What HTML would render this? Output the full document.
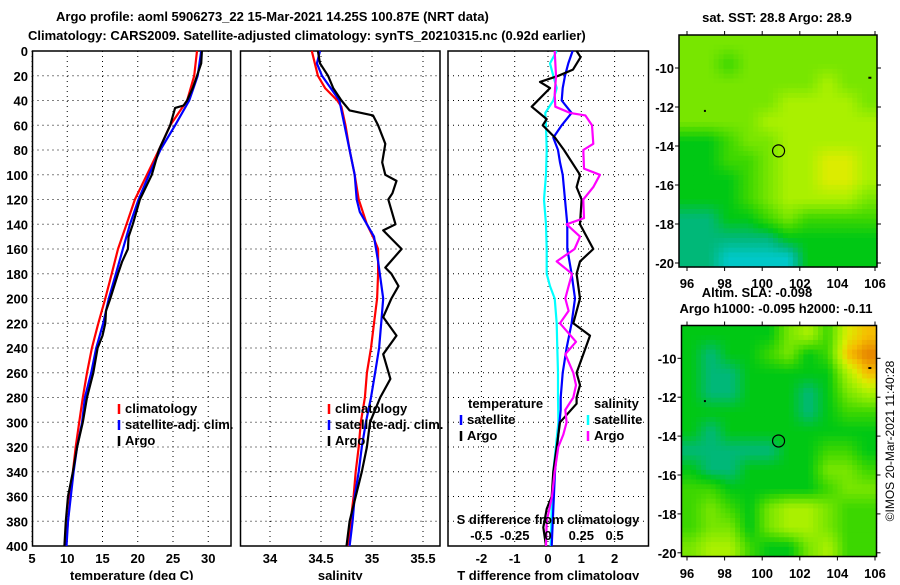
<!DOCTYPE html>
<html><head><meta charset="utf-8"><style>
body{margin:0;background:#fff;}
svg text{font-family:"Liberation Sans",sans-serif;font-weight:bold;font-size:13px;fill:#000;}
</style></head><body>
<svg id="chart" width="900" height="580" viewBox="0 0 900 580" xmlns="http://www.w3.org/2000/svg">
<text x="56" y="21">Argo profile: aoml 5906273_22 15-Mar-2021 14.25S 100.87E (NRT data)</text>
<text x="28" y="40">Climatology: CARS2009. Satellite-adjusted climatology: synTS_20210315.nc (0.92d earlier)</text>
<text x="777" y="22" text-anchor="middle">sat. SST: 28.8 Argo: 28.9</text>
<text x="757" y="297" text-anchor="middle">Altim. SLA: -0.098</text>
<text x="776" y="313" text-anchor="middle">Argo h1000: -0.095 h2000: -0.11</text>
<text transform="translate(894,441) rotate(-90)" text-anchor="middle" style="font-weight:normal;font-size:12px">©IMOS 20-Mar-2021 11:40:28</text>
<g id="plots"></g>
</svg>
<script>
// ---- temperature panel data ----
const tDepthClim = [0,20,40,60,80,100,120,140,160,180,200,220,240,260,280,300,320,340,360,380,400];
const tClim = [28.4,28.0,27.0,24.6,23.0,21.3,19.6,18.4,17.2,16.3,15.4,14.4,13.5,12.8,12.2,11.7,11.2,10.8,10.4,10.1,9.8];
const tSat = [29.0,28.5,27.3,25.3,23.2,21.6,20.1,18.9,17.9,16.9,15.9,15.1,14.1,13.4,12.5,12.1,11.4,10.9,10.5,10.1,9.9];
const tDepthArgo = [0,10,20,30,40,44,46,60,80,100,120,140,150,160,170,180,200,210,220,230,240,260,280,300,320,340,360,380,400];
const tArgo = [29.1,29.0,28.4,27.8,27.0,26.5,25.3,24.6,23.0,22.0,20.3,19.3,18.7,18.6,17.8,17.2,16.1,15.5,15.4,15.0,14.3,13.7,12.8,12.2,11.4,10.8,10.1,9.8,9.6];
const tTicks = [5,10,15,20,25,30];
// ---- salinity panel data ----
const sDepthClim = [0,20,30,40,45,60,80,100,120,140,150,160,180,200,220,240,260,280,300,320,340,360,380,400];
const sClim = [34.41,34.47,34.54,34.66,34.70,34.74,34.78,34.83,34.87,34.95,35.01,35.06,35.06,35.05,35.02,34.99,34.95,34.93,34.89,34.87,34.84,34.82,34.79,34.77];
const sDepthSat = [0,10,20,40,60,80,100,120,130,150,170,200,220,240,260,280,300,320,340,360,380,400];
const sSat = [34.49,34.46,34.51,34.68,34.73,34.78,34.83,34.85,34.88,35.02,35.06,35.11,35.09,35.07,35.03,34.99,34.94,34.90,34.87,34.83,34.81,34.78];
const sDepthArgo = [0,10,20,30,40,48,52,60,75,90,100,105,115,120,140,145,160,175,180,190,200,215,230,245,265,280,300,320,340,360,380,400];
const sArgo = [34.47,34.49,34.57,34.62,34.70,34.78,35.01,35.06,35.13,35.10,35.13,35.24,35.20,35.16,35.23,35.11,35.29,35.13,35.19,35.26,35.19,35.11,35.24,35.11,35.18,35.08,34.98,34.95,34.90,34.84,34.78,34.75];
const sTicks = [34,34.5,35,35.5];
// ---- difference panel data ----
const dDepthSSat = [0,10,20,30,40,50,60,80,100,120,140,160,180,190,200,220,240,260,280,300,340,370,400];
const dSSat = [0.065,0.015,0.04,0.065,0.04,-0.02,-0.015,-0.01,-0.015,-0.03,-0.015,-0.01,-0.01,0.015,0.05,0.065,0.07,0.075,0.075,0.078,0.04,0.028,0.02];
const dDepthTSat = [0,10,20,30,40,50,60,70,80,90,100,120,140,160,180,200,220,240,260,280,290,310,340,370,400];
const dTSat = [0.74,0.61,0.51,0.44,0.41,0.71,0.41,0.16,0.30,0.36,0.44,0.51,0.58,0.58,0.71,0.81,0.71,0.56,0.44,0.38,0.38,0.31,0.21,0.16,0.11];
const dDepthTArgo = [0,5,15,20,25,30,45,55,60,70,80,100,110,120,140,160,170,180,200,220,230,245,260,270,280,285,300,320,340,360,370,385,400];
const dTArgo = [0.86,0.98,0.75,0.31,-0.24,0.06,-0.49,-0.04,-0.16,0.21,0.48,0.96,0.86,1.01,0.96,1.36,0.96,0.86,0.96,0.76,1.26,1.06,0.86,0.96,0.86,0.86,0.36,0.26,0.16,0.11,-0.04,-0.14,-0.06];
const dDepthSArgo = [0,20,35,45,50,52,60,75,80,95,100,110,120,135,140,150,160,170,180,190,200,210,220,235,245,260,270,280,290,300,310,320,340,360,380,400];
const dSArgo = [0.05,0.06,0.05,0.055,0.165,0.28,0.33,0.34,0.265,0.27,0.39,0.34,0.265,0.27,0.14,0.24,0.20,0.065,0.18,0.155,0.13,0.155,0.09,0.21,0.13,0.19,0.21,0.19,0.13,0.14,0.115,0.077,0.05,0.03,-0.01,-0.015];
const dTTicks = [-2,-1,0,1,2];
const dSTicks = [-0.5,-0.25,0,0.25,0.5];
const dSTickLabels = ['-0.5','-0.25','0','0.25','0.5'];
const depthTicks = [0,20,40,60,80,100,120,140,160,180,200,220,240,260,280,300,320,340,360,380,400];
// ---- map data (colour class per ~1deg cell, rows north->south) ----
const sstGrid = [
[5,5,5,5,5,5,5,5,5,5],[5,5,4,5,5,5,5,5,5,5],[5,5,5,5,5,5,5,6,5,5],[5,5,5,5,5,6,6,6,6,5],
[5,5,5,5,6,6,6,6,6,6],[3,3,4,5,5,6,6,6,6,6],[3,3,4,4,5,6,6,7,7,6],[3,3,3,4,5,6,6,7,7,6],
[3,3,3,4,5,6,6,6,6,5],[2,2,3,3,4,5,4,4,4,4],[2,2,2,2,2,3,3,3,3,3],[2,2,1,1,1,1,3,3,3,3]];
const slaGrid = [
[3,3,3,3,3,5,6,4,7,8],[3,2,3,3,4,5,3,4,8,9],[3,2,2,3,3,3,3,3,6,8],[3,2,2,3,3,3,2,3,5,6],
[3,3,3,3,3,3,2,3,4,4],[3,2,3,3,3,3,3,3,3,3],[2,2,2,2,2,3,3,4,4,3],[3,2,2,3,3,3,3,5,5,4],
[4,4,3,3,3,3,3,4,5,5],[4,5,4,3,5,6,6,5,4,4],[4,5,5,3,5,6,6,5,4,4],[5,6,6,4,3,3,5,6,4,4]];
const lonTicks = [96,98,100,102,104,106];
const latTicks = [-10,-12,-14,-16,-18,-20];
const argoLon = 100.87, argoLat = -14.25;

const NS='http://www.w3.org/2000/svg';
const root=document.getElementById('plots');
function mk(tag,attrs,parent){const e=document.createElementNS(NS,tag);for(const k in attrs)e.setAttribute(k,attrs[k]);(parent||root).appendChild(e);return e;}
function txt(x,y,s,anchor,parent){const t=mk('text',{x:x,y:y,'text-anchor':anchor||'start'},parent);t.textContent=s;return t;}
const Y0=51, Y1=546;
const yD=d=>Y0+(d/400)*(Y1-Y0);

function panel(name,x0,x1,xf,ticks,labels,xlabel){
  const g=mk('g',{});
  
  
  depthTicks.forEach(d=>{if(d>0&&d<400){const l=mk('line',{x1:x0,x2:x1,y1:yD(d),y2:yD(d),stroke:'#000','stroke-dasharray':'1,4'},g);}});
  ticks.forEach((v,i)=>{const x=xf(v);const l=mk('line',{x1:x,x2:x,y1:Y0,y2:Y1,stroke:'#000','stroke-dasharray':'1,4'},g);
    if(labels){const t=txt(x,563,labels[i],'middle',g);}});
  const r=mk('rect',{x:x0,y:Y0,width:x1-x0,height:Y1-Y0,fill:'none',stroke:'#000','stroke-width':1.5},g);
  
  if(xlabel){const t=txt((x0+x1)/2,580,xlabel,'middle',g);}
  return g;
}
function series(g,name,depths,vals,xf,color){
  const pts=depths.map((d,i)=>xf(vals[i]).toFixed(1)+','+yD(d).toFixed(1)).join(' ');
  const p=mk('polyline',{points:pts,fill:'none',stroke:color,'stroke-width':2.2,'stroke-linejoin':'round'},g);
  
  
}
function legend(g,x,y,color,label,name){
  const l=mk('line',{x1:x,x2:x,y1:y-9,y2:y+1,stroke:color,'stroke-width':2.5},g);
  
  const t=txt(x+6,y,label,'start',g);
  
}
depthTicks.forEach(d=>{const t=txt(28,yD(d)+5,String(d),'end');});

// temperature
const xT=v=>32+(v-5)*7.05;
const g1=panel('temperature-panel',32.5,231,xT,tTicks,tTicks.map(String),'temperature (deg C)');
series(g1,'temp-climatology-line',tDepthClim,tClim,xT,'#f00');
series(g1,'temp-satellite-line',tDepthClim,tSat,xT,'#00f');
series(g1,'temp-argo-line',tDepthArgo,tArgo,xT,'#000');
legend(g1,119,413,'#f00','climatology','legend-climatology');
legend(g1,119,429,'#00f','satellite-adj. clim.','legend-satellite');
legend(g1,119,445,'#000','Argo','legend-argo');

// salinity
const xS=v=>270+(v-34)*102;
const g2=panel('salinity-panel',240.5,440,xS,sTicks,sTicks.map(String),'salinity');
series(g2,'sal-climatology-line',sDepthClim,sClim,xS,'#f00');
series(g2,'sal-satellite-line',sDepthSat,sSat,xS,'#00f');
series(g2,'sal-argo-line',sDepthArgo,sArgo,xS,'#000');
legend(g2,329,413,'#f00','climatology','legend-climatology');
legend(g2,329,429,'#00f','satellite-adj. clim.','legend-satellite');
legend(g2,329,445,'#000','Argo','legend-argo');

// difference
const xDT=v=>548+v*33.3;
const xDS=v=>548+v*133.2;
const g3=panel('difference-panel',448,648.5,xDT,dTTicks,dTTicks.map(String),'T difference from climatology');
series(g3,'sdiff-satellite-line',dDepthSSat,dSSat,xDS,'#0ff');
series(g3,'tdiff-satellite-line',dDepthTSat,dTSat,xDT,'#00f');
series(g3,'tdiff-argo-line',dDepthTArgo,dTArgo,xDT,'#000');
series(g3,'sdiff-argo-line',dDepthSArgo,dSArgo,xDS,'#f0f');
{const t=txt(468,408,'temperature','start',g3);
 const s=txt(594,408,'salinity','start',g3);}
legend(g3,461,424,'#00f','satellite','legend-t-satellite');
legend(g3,461,440,'#000','Argo','legend-t-argo');
legend(g3,588,424,'#0ff','satellite','legend-s-satellite');
legend(g3,588,440,'#f0f','Argo','legend-s-argo');
{const t=txt(548,524,'S difference from climatology','middle',g3);}
dSTicks.forEach((v,i)=>{const t=txt(xDS(v),540,dSTickLabels[i],'middle',g3);});

// maps
const cmap=[[0,80,255],[0,200,200],[0,184,120],[0,200,20],[60,215,0],[120,230,0],[170,240,0],[220,236,0],[245,190,0],[230,130,0]];
function colorOf(v){
  v=Math.max(0,Math.min(9,v));const i=Math.min(8,Math.floor(v)),f=v-i;
  const a=cmap[i],b=cmap[i+1];
  return 'rgb('+a.map((c,k)=>Math.round(c+(b[k]-c)*f)).join(',')+')';
}
function sample(grid,u,v){ // u,v in cell units, centers at i+0.5
  const rows=grid.length,cols=grid[0].length;
  let x=u-0.5,y=v-0.5;x=Math.max(0,Math.min(cols-1,x));y=Math.max(0,Math.min(rows-1,y));
  const i=Math.min(cols-2,Math.floor(x)),j=Math.min(rows-2,Math.floor(y));const fx=x-i,fy=y-j;
  const a=grid[j][i],b=grid[j][i+1],c=grid[j+1][i],d=grid[j+1][i+1];
  return a*(1-fx)*(1-fy)+b*fx*(1-fy)+c*(1-fx)*fy+d*fx*fy;
}
function map(name,grid,x0,x1,yTop,yBot,lat10y,degY,xlabY){
  const g=mk('g',{});
  
  
  const lonX=l=>687+(l-96)*18.8;
  const latY=l=>lat10y+(-10-l)*degY;
  const rows=grid.length, cols=grid[0].length;
  const nx=40, ny=48;
  const cw=(x1-x0)/nx, ch=(yBot-yTop)/ny;
  for(let r=0;r<ny;r++)for(let c=0;c<nx;c++){
    const val=sample(grid,(c+0.5)/nx*cols,(r+0.5)/ny*rows);
    const cell=mk('rect',{x:(x0+c*cw).toFixed(2),y:(yTop+r*ch).toFixed(2),width:(cw+0.6).toFixed(2),height:(ch+0.6).toFixed(2),fill:colorOf(val)},g);
    
    
  }
  const f=mk('rect',{x:x0,y:yTop,width:x1-x0,height:yBot-yTop,fill:'none',stroke:'#000','stroke-width':1.5},g);
  
  lonTicks.forEach(l=>{const x=lonX(l);mk('line',{x1:x,x2:x,y1:yTop-4,y2:yTop,stroke:'#000'},g);mk('line',{x1:x,x2:x,y1:yBot,y2:yBot+4,stroke:'#000'},g);
    const t=txt(x,xlabY,String(l),'middle',g);});
  latTicks.forEach(l=>{const y=latY(l);mk('line',{x1:x0-4,x2:x0,y1:y,y2:y,stroke:'#000'},g);mk('line',{x1:x1,x2:x1+4,y1:y,y2:y,stroke:'#000'},g);
    const t=txt(x0-5,y+5,String(l),'end',g);});
  const c=mk('circle',{cx:lonX(argoLon),cy:latY(argoLat),r:6,fill:'none',stroke:'#000','stroke-width':1.2},g);
  
  mk('rect',{x:lonX(96.9),y:latY(-12.2)-1,width:2,height:2,fill:'#000'},g);
  mk('rect',{x:lonX(105.7)-1,y:latY(-10.5)-1,width:3,height:2,fill:'#000'},g);
}
map('sst-map',sstGrid,679,877,35,267,68,19.5,288);
map('sla-map',slaGrid,681.5,876.5,325.5,556.5,358.3,19.45,578);
</script>
</body></html>
